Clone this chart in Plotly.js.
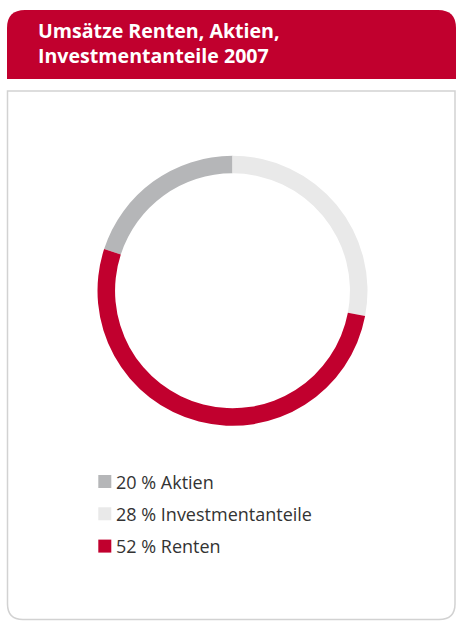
<!DOCTYPE html>
<html>
<head>
<meta charset="utf-8">
<script src="https://cdn.plot.ly/plotly-3.0.1.min.js"></script>
<style>html,body{margin:0;padding:0;background:#fff}</style>
</head>
<body>
<div id="chart" style="width:456px;height:621px"></div>
<script>
// chart data
const titleLines = ['Umsätze Renten, Aktien,', 'Investmentanteile 2007'];
const labels = ['Aktien', 'Investmentanteile', 'Renten'];
const values = [20, 28, 52];
const colors = ['#b5b6b8', '#e9e9e9', '#c1002e'];

// page is 456x621 with no margins, so convert pixel spots to paper units
const W = 456, H = 621;
const px = x => x / W;
const py = y => 1 - y / H;

// header band with rounded top corners, and the frame below it
const header = 'M' + px(7) + ',' + py(79) + ' L' + px(7) + ',' + py(28) +
    ' Q' + px(7) + ',' + py(10) + ' ' + px(25) + ',' + py(10) +
    ' L' + px(438) + ',' + py(10) + ' Q' + px(456) + ',' + py(10) + ' ' + px(456) + ',' + py(28) +
    ' L' + px(456) + ',' + py(79) + ' Z';
const frame = 'M' + px(7.5) + ',' + py(91) + ' L' + px(7.5) + ',' + py(604) +
    ' Q' + px(7.5) + ',' + py(619.5) + ' ' + px(23) + ',' + py(619.5) +
    ' L' + px(439) + ',' + py(619.5) + ' Q' + px(455) + ',' + py(619.5) + ' ' + px(455) + ',' + py(604) +
    ' L' + px(455) + ',' + py(91) + ' Z';

let shapes = [
    { type: 'path', xref: 'paper', yref: 'paper', path: frame, line: { color: '#d2d2d2', width: 1.5 }, fillcolor: 'rgba(0,0,0,0)' },
    { type: 'path', xref: 'paper', yref: 'paper', path: header, line: { width: 0 }, fillcolor: '#c1002e' }
];

// title, both lines in one text block
let annotations = [{
    xref: 'paper', yref: 'paper', x: px(35.5), y: py(42.6),
    xanchor: 'left', yanchor: 'middle', align: 'left', showarrow: false,
    text: titleLines.join('<br>'),
    font: { family: 'Open Sans', size: 19.6, color: '#ffffff', weight: 'bold' }
}];

// legend: squares and labels
labels.forEach((l, i) => {
    const cy = 481.5 + i * 32.3;
    shapes.push({
        type: 'rect', xref: 'paper', yref: 'paper',
        x0: px(98.3), x1: px(111.3), y0: py(cy - 6.5), y1: py(cy + 6.5),
        line: { width: 0 }, fillcolor: colors[i]
    });
    annotations.push({
        xref: 'paper', yref: 'paper', x: px(113.5), y: py(cy + 0.3),
        xanchor: 'left', yanchor: 'middle', showarrow: false,
        text: values[i] + ' % ' + l,
        font: { family: 'Open Sans', size: 18, color: '#333333' }
    });
});

var data = [{
    type: 'pie',
    labels: labels,
    values: values,
    marker: { colors: colors, line: { width: 0 } },
    hole: 0.87,
    sort: false,
    direction: 'clockwise',
    rotation: -72,
    textinfo: 'none',
    hoverinfo: 'label+percent',
    showlegend: false,
    domain: { x: [px(97.5), px(367.5)], y: [py(425.8), py(155.8)] }
}];

var layout = {
    width: W,
    height: H,
    margin: { l: 0, r: 0, t: 0, b: 0 },
    paper_bgcolor: '#ffffff',
    showlegend: false,
    font: { family: 'Open Sans' },
    shapes: shapes,
    annotations: annotations
};

Plotly.newPlot('chart', data, layout, { displayModeBar: false, staticPlot: true });
</script>
</body>
</html>
